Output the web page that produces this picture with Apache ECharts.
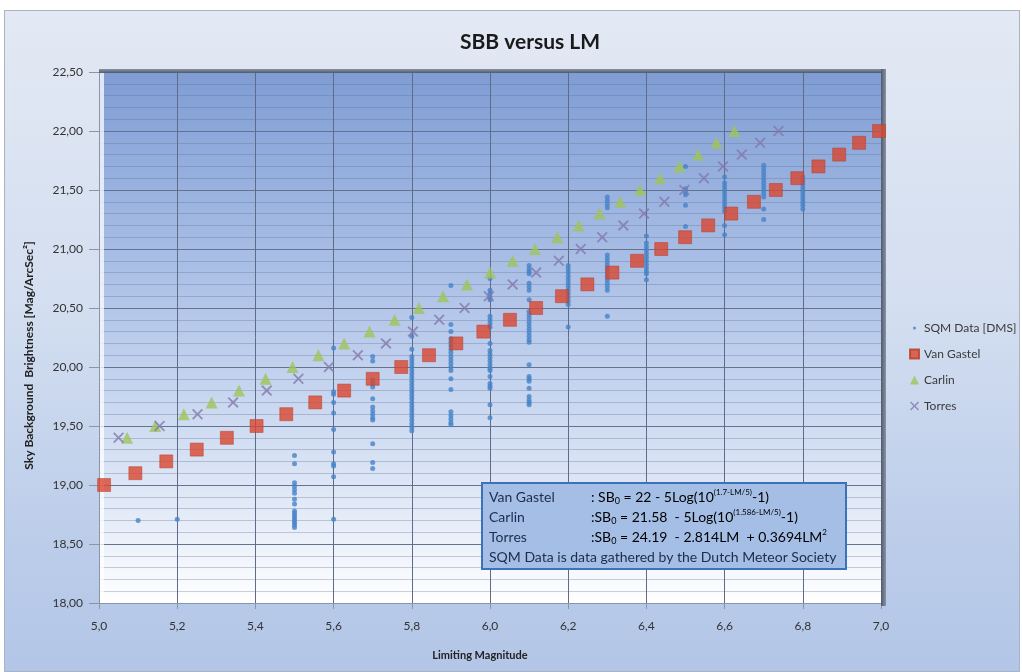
<!DOCTYPE html>
<html><head><meta charset="utf-8">
<script src="https://cdn.jsdelivr.net/npm/echarts@6/dist/echarts.min.js"></script>
<style>
html,body{margin:0;padding:0;background:#fff;width:1022px;height:672px;overflow:hidden}
#frame{position:absolute;left:4px;top:10px;width:1016px;height:662px;box-sizing:border-box;border:1px solid #a9b3c3;
background:linear-gradient(to bottom,#e3e9f4 0%,#d3def0 45%,#bccdea 80%,#b3c6e7 100%)}
#chart{position:absolute;left:0;top:0;width:1022px;height:672px}
</style></head><body><div id="frame"></div><div id="chart"></div>
<script>
// ---- data ----
const xTickLabels = ['5,0','5,2','5,4','5,6','5,8','6,0','6,2','6,4','6,6','6,8','7,0'];
const yTickLabels = ['18,00','18,50','19,00','19,50','20,00','20,50','21,00','21,50','22,00','22,50'];

const vanGastelLM = [5.013,5.093,5.172,5.250,5.327,5.403,5.479,5.553,5.627,5.700,5.773,5.844,5.914,5.983,6.051,6.118,6.184,6.249,6.313,6.376,6.438,6.499,6.558,6.617,6.675,6.731,6.786,6.840,6.893,6.944,6.995];
const vanGastelSB = [19.0,19.1,19.2,19.3,19.4,19.5,19.6,19.7,19.8,19.9,20.0,20.1,20.2,20.3,20.4,20.5,20.6,20.7,20.8,20.9,21.0,21.1,21.2,21.3,21.4,21.5,21.6,21.7,21.8,21.9,22.0];

const carlinLM = [5.072,5.144,5.217,5.288,5.358,5.426,5.495,5.561,5.627,5.692,5.756,5.818,5.880,5.941,6.000,6.058,6.115,6.172,6.227,6.280,6.333,6.384,6.435,6.484,6.532,6.579,6.625];
const carlinSB = [19.4,19.5,19.6,19.7,19.8,19.9,20.0,20.1,20.2,20.3,20.4,20.5,20.6,20.7,20.8,20.9,21.0,21.1,21.2,21.3,21.4,21.5,21.6,21.7,21.8,21.9,22.0];

const torresLM = [5.050,5.155,5.252,5.343,5.429,5.510,5.588,5.662,5.734,5.803,5.870,5.935,5.997,6.058,6.118,6.176,6.232,6.287,6.341,6.394,6.446,6.497,6.547,6.596,6.644,6.691,6.738];
const torresSB = [19.4,19.5,19.6,19.7,19.8,19.9,20.0,20.1,20.2,20.3,20.4,20.5,20.6,20.7,20.8,20.9,21.0,21.1,21.2,21.3,21.4,21.5,21.6,21.7,21.8,21.9,22.0];

const sqmLM = [5.1,5.2,5.5,5.6,5.7,5.8,5.9,6.0,6.1,6.2,6.3,6.4,6.5,6.6,6.7,6.8];
const sqmSB = [
  [18.70],
  [18.71],
  [19.25,19.18,19.02,18.99,18.96,18.93,18.88,18.84,18.78,18.76,18.74,18.72,18.70,18.68,18.66,18.64],
  [20.16,19.79,19.77,19.70,19.61,19.47,19.28,19.18,19.16,19.07,18.71],
  [20.09,20.05,19.89,19.86,19.83,19.73,19.66,19.63,19.60,19.57,19.55,19.35,19.19,19.14],
  [20.42,20.26,20.15,20.09,20.06,20.03,20.00,19.97,19.94,19.91,19.88,19.85,19.82,19.79,19.76,19.73,19.70,19.67,19.64,19.61,19.58,19.55,19.52,19.49,19.46],
  [20.69,20.36,20.30,20.24,20.21,20.18,20.15,20.12,20.09,20.06,20.03,20.00,19.97,19.90,19.81,19.62,19.59,19.56,19.53,19.51],
  [20.75,20.65,20.62,20.59,20.57,20.43,20.40,20.37,20.34,20.20,20.14,20.11,20.08,20.05,20.02,19.99,19.97,19.92,19.86,19.84,19.82,19.68,19.57],
  [20.86,20.83,20.81,20.79,20.71,20.68,20.65,20.57,20.47,20.44,20.41,20.38,20.35,20.32,20.29,20.26,20.23,20.21,20.02,19.92,19.90,19.88,19.82,19.75,19.72,19.70,19.68],
  [20.86,20.83,20.80,20.77,20.74,20.71,20.68,20.65,20.62,20.59,20.56,20.53,20.34],
  [21.44,21.41,21.38,21.35,20.95,20.92,20.89,20.86,20.83,20.80,20.77,20.74,20.71,20.68,20.65,20.43],
  [21.11,21.05,21.02,20.99,20.96,20.93,20.90,20.87,20.84,20.81,20.79,20.74],
  [21.70,21.51,21.48,21.46,21.37,21.19],
  [21.61,21.56,21.53,21.50,21.47,21.44,21.41,21.38,21.35,21.32,21.20,21.12],
  [21.71,21.68,21.65,21.62,21.59,21.56,21.53,21.50,21.47,21.44,21.34,21.25],
  [21.61,21.58,21.55,21.52,21.49,21.46,21.43,21.40,21.37,21.34]
];

const seriesNames = ['SQM Data [DMS]','Van Gastel','Carlin','Torres'];

// ---- build ----
const pair = (xs, ys) => xs.map((x, i) => [x, ys[i]]);
const sqmData = [];
sqmLM.forEach((x, i) => sqmSB[i].forEach(y => sqmData.push([x, y])));

const FONT = 'Lato';
const GL = 99, GT = 72, GR = 141, GB = 69;
const W = 1022, H = 672;
const PW = W - GL - GR, PH = H - GT - GB;
const TXT = '#1d2c4a';

const crossPath = 'path://M0,1.2L1.2,0L5,3.8L8.8,0L10,1.2L6.2,5L10,8.8L8.8,10L5,6.2L1.2,10L0,8.8L3.8,5Z';
const smallDot = 'path://M0,0M10,10M3.2,5a1.8,1.8 0 1,0 3.6,0a1.8,1.8 0 1,0 -3.6,0Z';

function richF() {
  return {
    t: {fontFamily: FONT, fontSize: 14, color: TXT, lineHeight: 18, verticalAlign: 'middle'},
    sub: {fontFamily: FONT, fontSize: 9, color: TXT, lineHeight: 18, verticalAlign: 'bottom'},
    sup: {fontFamily: FONT, fontSize: 8, color: TXT, lineHeight: 18, verticalAlign: 'top'}
  };
}

const chart = echarts.init(document.getElementById('chart'), null, {renderer: 'canvas'});
chart.setOption({
  backgroundColor: 'transparent',
  animation: false,
  textStyle: {fontFamily: FONT},
  title: {
    text: 'SBB versus LM', left: 525, top: 27, textAlign: 'center',
    textStyle: {fontFamily: FONT, fontSize: 21, fontWeight: 'bold', color: '#1a1a1a'}
  },
  legend: {
    orient: 'vertical', left: 904, top: 316, itemGap: 12, itemWidth: 9, itemHeight: 9,
    textStyle: {fontFamily: FONT, fontSize: 12, color: '#3a3a3a', lineHeight: 14},
    data: [
      {name: seriesNames[0], icon: smallDot},
      {name: seriesNames[1], icon: 'rect'},
      {name: seriesNames[2], icon: 'triangle'},
      {name: seriesNames[3], icon: crossPath}
    ]
  },
  grid: {
    left: GL, top: GT, right: GR, bottom: GB, show: true, borderWidth: 0,
    backgroundColor: new echarts.graphic.LinearGradient(0, 0, 0, 1, [
      {offset: 0, color: '#7f9dd4'}, {offset: 0.45, color: '#b4c7ea'}, {offset: 0.85, color: '#e6edf8'}, {offset: 1, color: '#ffffff'}
    ])
  },
  xAxis: {
    type: 'value', min: 5, max: 7, interval: 0.2,
    name: 'Limiting Magnitude', nameLocation: 'middle', nameGap: 47,
    nameTextStyle: {fontFamily: FONT, fontSize: 11, fontWeight: 'bold', color: '#222', padding: [0, 20, 0, 0]},
    axisLine: {show: true, lineStyle: {color: '#8c95a6', width: 1}},
    axisTick: {show: true, length: 6, lineStyle: {color: '#8c95a6'}},
    axisLabel: {
      margin: 17, fontFamily: FONT, fontSize: 12, color: '#333',
      formatter: v => xTickLabels[Math.round((v - 5) / 0.2)]
    },
    splitLine: {show: true, lineStyle: {color: '#5f6c88', width: 1}}
  },
  yAxis: {
    type: 'value', min: 18, max: 22.5, interval: 0.5,
    name: 'Sky Background  Brightness [Mag/ArcSec²]', nameLocation: 'middle', nameGap: 64, nameRotate: 90,
    nameTextStyle: {fontFamily: FONT, fontSize: 12, fontWeight: 'bold', color: '#222', padding: [0, 36, 0, 0]},
    axisLine: {show: true, lineStyle: {color: '#8c95a6', width: 1}},
    axisTick: {show: true, length: 10, lineStyle: {color: '#8c95a6'}},
    axisLabel: {
      margin: 16, fontFamily: FONT, fontSize: 12, color: '#333',
      formatter: v => yTickLabels[Math.round((v - 18) / 0.5)]
    },
    splitLine: {show: true, lineStyle: {color: '#66738f', width: 1}},
    minorTick: {show: false, splitNumber: 5},
    minorSplitLine: {show: true, lineStyle: {color: 'rgba(95,110,145,0.33)', width: 1}}
  },
  series: [
    {
      name: seriesNames[0], type: 'scatter', data: sqmData, symbol: 'circle', symbolSize: 5,
      itemStyle: {color: '#4683c8'}, z: 3
    },
    {
      name: seriesNames[1], type: 'scatter', data: pair(vanGastelLM, vanGastelSB), symbol: 'rect', symbolSize: 13,
      itemStyle: {color: '#d9462f', borderColor: '#b9391f', borderWidth: 0.6}, z: 4
    },
    {
      name: seriesNames[2], type: 'scatter', data: pair(carlinLM, carlinSB), symbol: 'triangle', symbolSize: 12,
      itemStyle: {color: '#9fc459'}, z: 4
    },
    {
      name: seriesNames[3], type: 'scatter', data: pair(torresLM, torresSB), symbol: crossPath, symbolSize: 11,
      itemStyle: {color: '#8379ab'}, z: 4
    }
  ],
  graphic: [
    {type: 'rect', z: 1, silent: true, shape: {x: GL, y: GT - 3, width: PW + 5, height: 4},
      style: {fill: new echarts.graphic.LinearGradient(0, 0, 0, 1, [{offset: 0, color: '#8a93a2'}, {offset: 1, color: '#4f5a6e'}])}},
    {type: 'rect', z: 1, silent: true, shape: {x: GL + PW, y: GT - 3, width: 5, height: PH + 6},
      style: {fill: new echarts.graphic.LinearGradient(0, 0, 1, 0, [{offset: 0, color: '#4f5a6e'}, {offset: 1, color: '#8a93a2'}])}},
    {type: 'rect', z: 1, silent: true, shape: {x: GL + 1, y: GT + 1, width: 4, height: PH - 1},
      style: {fill: 'rgba(255,255,255,0.75)'}},
    {type: 'rect', z: 20, shape: {x: 482, y: 483, width: 364, height: 86},
      style: {fill: '#a4bee6', stroke: '#3c72b9', lineWidth: 2}},
    {type: 'text', z: 21, x: 489, y: 497, style: {text: 'Van Gastel', fontFamily: FONT, fontSize: 14, fill: TXT, verticalAlign: 'middle'}},
    {type: 'text', z: 21, x: 489, y: 517, style: {text: 'Carlin', fontFamily: FONT, fontSize: 14, fill: TXT, verticalAlign: 'middle'}},
    {type: 'text', z: 21, x: 489, y: 537, style: {text: 'Torres', fontFamily: FONT, fontSize: 14, fill: TXT, verticalAlign: 'middle'}},
    {type: 'text', z: 21, x: 489, y: 557, style: {text: 'SQM Data is data gathered by the Dutch Meteor Society', fontFamily: FONT, fontSize: 14, fill: TXT, verticalAlign: 'middle'}},
    {type: 'text', z: 21, x: 591, y: 497, style: {
      text: '{t|: SB}{sub|0}{t| = 22 - 5Log(10}{sup|(1.7-LM/5)}{t|-1)}', verticalAlign: 'middle', rich: richF()}},
    {type: 'text', z: 21, x: 591, y: 517, style: {
      text: '{t|:SB}{sub|0}{t| = 21.58  - 5Log(10}{sup|(1.586-LM/5)}{t|-1)}', verticalAlign: 'middle', rich: richF()}},
    {type: 'text', z: 21, x: 591, y: 537, style: {
      text: '{t|:SB}{sub|0}{t| = 24.19  - 2.814LM  + 0.3694LM}{sup|2}', verticalAlign: 'middle', rich: richF()}}
  ]
});
</script>
</body></html>
